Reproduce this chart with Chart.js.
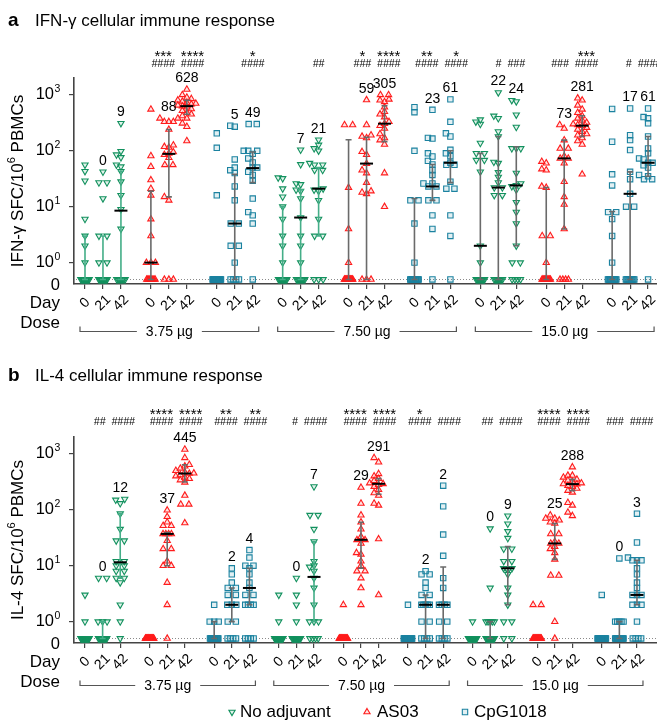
<!DOCTYPE html>
<html>
<head>
<meta charset="utf-8">
<script src="https://cdn.jsdelivr.net/npm/chart.js@4.4.1/dist/chart.umd.min.js"></script>
<style>
  html, body { margin: 0; padding: 0; background: #fff; }
  #wrap { position: relative; width: 657px; height: 722px; }
  .panel { position: absolute; left: 0; width: 657px; }
</style>
</head>
<body>
<div id="wrap">
  <div class="panel" style="top:0;height:345px"><canvas id="chartA"></canvas></div>
  <div class="panel" style="top:345px;height:377px"><canvas id="chartB"></canvas></div>
</div>
<script>
// ---- shared labels ----
const days = ['0', '21', '42'];
const doses = ['3.75 µg', '7.50 µg', '15.0 µg'];
const adjuvants = ['No adjuvant', 'AS03', 'CpG1018'];

// ---- IFN-γ SFC per 10^6 PBMCs, one array per day (0, 21, 42) ----
const ifnNoAdj375 = [
  [0,0,0,0,0,0,0,0,0,0,0,0,0, 1,2,3,6,29,43,56],
  [0,0,0,0,0,0,0,0,0,0,0,0, 1,1,3,3,14,27,27,42],
  [0,0,0,0,0,0,0,0, 4,9,16,28,43,52,56,76,85,98,310]
];
const ifnAs03375 = [
  [0,0,0,0,0,0,0,0,0, 1,1,1,3,6,16,21,30,52,81,550],
  [0,0,0, 13,15,56,56,75,85,90,95,115,118,126,240,330,330,330,380,380],
  [150,270,310,380,420,450,480,520,560,600,628,650,680,700,720,760,800,850,900,1000,1250]
];
const ifnCpg375 = [
  [0,0,0,0,0,0,0,0,0,0,0,0,0,0,0,0,0, 16,113,205],
  [0,0,0,0, 1,2,2,5,5,13,23,40,45,50,70,270,280],
  [0,5,7,8,14,29,37,42,50,50,62,73,88,100,100,100,300,300]
];
const ifnNoAdj750 = [
  [0,0,0,0,0,0,0,0,0,0,0, 1,2,3,6,10,15,21,32,33],
  [0,0,0,0,0,0,0,0,0, 1,2,3,6.4,14,19,20,25,26,57,104],
  [0,0,0, 3,3,6,13,19,20,21,45,45,56,56,60,100,110,127,157]
];
const ifnAs03750 = [
  [0,0,0,0,0,0,0,0,0,0,0,0,0,0,0, 1,4,22,290,290],
  [0,0,0, 17,18,19,27,40,45,59,85,96,170,180,190,290,810],
  [10,40,130,155,170,200,250,280,305,330,400,450,500,600,750,800,830,1000,1000]
];
const ifnCpg750 = [
  [0,0,0,0,0,0,0,0,0,0,0,0,0, 1,5,13,13,100,490,600],
  [0, 4,7,13,13,23,23,26,26,37,45,57,66,79,90,165,170,540],
  [0, 3,7,21,21,28,56,56,61,80,90,104,180,205,330,830]
];
const ifnNoAdj1500 = [
  [0,0,0,0,0,0,0,0,0,0, 1,2,42,68,68,90,90,137,300,330,360],
  [0,0,0,0,0,0,0,0, 16,16,22,22,27,34,41,60,63,180,220,380,420,1100],
  [0,0,0,0, 1,1,2,5,8,12,20,23,24,26,40,110,110,110,265,440,760,800]
];
const ifnAs031500 = [
  [0,0,0,0,0,0,0,0,0,0,0, 1,3,3,22,23,45,47,60,64],
  [0,0,0,0, 4,11,15,28,60,73,73,80,110,110,155,250,290],
  [38,130,150,170,190,200,220,240,260,281,290,300,320,350,380,420,480,550,650,800,870]
];
const ifnCpg1500 = [
  [0,0,0,0,0,0,0,0,0,0,0,0, 1,3,6,8,8,24,38,145,560],
  [0,0,0,0,0,0,0,0,0,0, 10,10,17,31,42,103,155,190,570],
  [0, 31,31,35,37,50,55,61,61,70,73,90,110,180,310,380,400,570]
];
// median and interquartile range per column (null = no bar)
const ifnMedians = [0,0,8.5, 1,88,628, 0,5,49, 0,6.4,21, 0,59,305, 0,23,61, 2,22,24, 0,73,281, 0,17,61];
const ifnLow  = [0,0,0, 0,15,450, null,0,27, 0,0,3, 0,0,146, 0,13,27, 0,0,2, 0,4,180, 0,0,35];
const ifnHigh = [3,3,43, 19,240,800, null,38,95, 10,20,50, 157,175,640, 14,57,100, 90,180,118, 22,155,424, 8.2,42,180];
const ifnMedianLabels = ['','0','9', '','88','628', '','5','49', '','7','21', '','59','305', '','23','61', '','22','24', '','73','281', '','17','61'];
const ifnStars  = ['','','', '','***','****', '','','*', '','','', '','*','****', '','**','*', '','','', '','','***', '','',''];
const ifnHashes = ['','','', '','####','####', '','','####', '','','##', '','###','####', '','####','####', '','#','###', '','###','####', '','#','####'];

// ---- IL-4 SFC per 10^6 PBMCs ----
const il4NoAdj375 = [
  [0,0,0,0,0,0,0,0,0,0,0,0,0,0,0,0,0,0, 1,3],
  [0,0,0,0,0,0,0,0,0,0,0,0,0,0, 1,1,1,6,6],
  [0, 1,2,5,6,6,8,8,10,10,12,12,28,28,45,85,130,150,155]
];
const il4As03375 = [
  [0,0,0,0,0,0,0,0,0,0,0,0,0,0,0,0,0,0,0,0],
  [0, 2,5,10,10,12,20,20,28,37,37,37,37,52,52,60,75,98],
  [58,125,125,180,310,340,360,380,400,420,445,450,470,500,550,600,640,850,1200]
];
const il4Cpg375 = [
  [0,0,0,0,0,0,0,0,0,0,0,0,0,0,0, 1,1,1,2],
  [0,0,0,0, 1,1,2,2,2,3,3,4,4,5,7,9],
  [0,0,0,0, 2,2,2,2,3,3,4,5,7,9,10,10,14,19]
];
const il4NoAdj750 = [
  [0,0,0,0,0,0,0,0,0,0,0,0,0,0,0,0,0,0, 1,3],
  [0,0,0,0,0,0,0,0,0,0,0,0,0,0,0,0, 1,2,3,6],
  [0,0,0,0, 1,1,1,2,4,6,8,9.5,10,12,27,45,80,80,260]
];
const il4As03750 = [
  [0,0,0,0,0,0,0,0,0,0,0,0,0,0,0,0,0,0,0, 2],
  [2,4,6,8,8,10,12,16,17,25,29,29,33,45,60,80,130,250],
  [3,30,120,130,180,200,230,260,280,291,300,330,360,400,440,710,850]
];
const il4Cpg750 = [
  [0,0,0,0,0,0,0,0,0,0,0,0,0,0,0,0,0,0,0, 2],
  [0,0,0,0, 1,1,2,2,2,2,2,3,3,4,5,7,7,8],
  [0,0,0,0, 1,1,2,2,2,2,4,6,15,36,115,270]
];
const il4NoAdj1500 = [
  [0,0,0,0,0,0,0,0,0,0,0,0,0,0,0,0,0,0,0, 1],
  [0,0,0,0,0,0,0,0,0,0,0,0,0,0, 1,1,1,1,1,4,46],
  [0,0, 1,1,2,3,4,7,9,9,9,9,12,12,20,20,31,41,56,78]
];
const il4As031500 = [
  [0,0,0,0,0,0,0,0,0,0,0,0,0,0,0,0,0,0, 2,2],
  [0, 1,6.7,6.7,13,17,20,22,25,25,27,37,37,57,60,65,70,70,80],
  [78,90,120,134,205,220,240,260,270,288,290,300,320,335,350,380,410,410,580]
];
const il4Cpg1500 = [
  [0,0,0,0,0,0,0,0,0,0,0,0,0,0,0,0,0,0,0, 3],
  [0,0,0,0,0,0,0,0,0,0,0,0,0,0, 1,1,1,1,1,13.5],
  [0,0,0,0, 1,2,2,2,3,3,3,4,5,7,9,12.5,12.5,12.5,14,26,85]
];
const il4Medians = [0,0,11.5, 0,37,445, 0,2,4, 0,0,6.3, 0,29,291, 0,2,2, 0,0,9, 0,25,288, 0,0,3];
const il4Low  = [null,0,6, null,10,313, 0,1,2, null,null,1, null,9,190, null,0,0, null,0,2, null,13,220, null,0,2];
const il4High = [null,1,85, null,39,640, 1,4,9, null,null,27, null,60,360, null,3,9.5, null,1,22, null,57,350, null,1,12.5];
const il4MedianLabels = ['','0','12', '','37','445', '','2','4', '','0','7', '','29','291', '','2','2', '','0','9', '','25','288', '','0','3'];
const il4Stars  = ['','','', '','****','****', '','**','**', '','','', '','****','****', '','*','', '','','', '','****','****', '','',''];
const il4Hashes = ['','##','####', '','####','####', '','####','####', '','#','####', '','####','####', '','####','####', '','##','####', '','####','####', '','###','####'];

// ---- drawing settings ----
const FONT = '"Liberation Sans", Arial, Helvetica, sans-serif';
const GREEN = '#12915e', RED = '#ff1c1c', TEAL = '#1b82a0';
const GREEN_BAR = '#44ae88', GRAY_BAR = '#6a6a6a';
const ZERO_AT = 0.5;      // zero values sit on the dotted baseline
const PX_DECADE = 56;
const STEP = 4.5;
const BLOB = 4.2;         // half-width of stacked identical values
Chart.defaults.font.family = FONT;

function rgba(hex, a) {
  const n = parseInt(hex.slice(1), 16);
  return `rgba(${n >> 16},${(n >> 8) & 255},${n & 255},${a})`;
}
function colPos(c) { return 11 * Math.floor(c / 3) + 3 * (c % 3); }

// simple deterministic beeswarm, offsets in pixels
function swarm(vals) {
  const off = new Array(vals.length).fill(0);
  const placed = [];
  const order = vals.map((v, i) => i).sort((a, b) => vals[a] - vals[b]);
  const free = (dx, y) => !placed.some(p => (p.x - dx) ** 2 + (p.y - y) ** 2 < STEP * STEP * 0.95);
  let k = 0;
  while (k < order.length) {
    let j = k;
    while (j < order.length && vals[order[j]] === vals[order[k]]) j++;
    const run = order.slice(k, j);
    const v = vals[run[0]];
    const y = Math.log10(v > 0 ? v : ZERO_AT) * PX_DECADE;
    let sym = null;
    if (run.length >= 4) {
      sym = run.map((_, n) => -BLOB + 2 * BLOB * n / (run.length - 1));
    } else if (run.length === 2 && free(-STEP, y) && free(STEP, y)) {
      sym = [-STEP * 0.9, STEP * 0.9];
    } else if (run.length === 3 && free(-STEP, y) && free(0, y) && free(STEP, y)) {
      sym = [-STEP, 0, STEP];
    }
    if (sym) {
      run.forEach((idx, n) => { off[idx] = sym[n]; placed.push({ x: sym[n], y }); });
    } else {
      run.forEach(idx => {
        for (let t = 0; t < 15; t++) {
          const dx = (t % 2 ? -1 : 1) * Math.ceil(t / 2) * STEP;
          if (free(dx, y)) { off[idx] = dx; placed.push({ x: dx, y }); break; }
        }
      });
    }
    k = j;
  }
  return off;
}

function buildPoints(groups, ppu) {
  const sets = [[], [], []];
  groups.forEach((byDay, g) => {
    byDay.forEach((vals, d) => {
      const u = 11 * g + 3 * d;
      const offs = swarm(vals);
      vals.forEach((v, i) => sets[g % 3].push({ x: u + offs[i] / ppu, y: v > 0 ? v : ZERO_AT }));
    });
  });
  return sets;
}

function drawRich(ctx, parts, cx, cy, size, supSize, raise) {
  let total = 0;
  parts.forEach(p => {
    ctx.font = `${p.sup ? supSize : size}px ${FONT}`;
    p.w = ctx.measureText(p.t).width;
    total += p.w;
  });
  let xx = cx - total / 2;
  ctx.textAlign = 'left';
  ctx.textBaseline = 'middle';
  parts.forEach(p => {
    ctx.font = `${p.sup ? supSize : size}px ${FONT}`;
    ctx.fillText(p.t, xx, p.sup ? cy - raise : cy);
    xx += p.w;
  });
}

function drawMarker(ctx, style, color, x, y, r) {
  ctx.save();
  ctx.strokeStyle = color;
  ctx.fillStyle = rgba(color, 0.12);
  ctx.lineWidth = 1.1;
  ctx.beginPath();
  if (style === 'rect') {
    const s = Math.SQRT1_2 * r;
    ctx.rect(x - s, y - s, 2 * s, 2 * s);
  } else {
    let rad = style === 'down' ? Math.PI : 0;
    for (let i = 0; i < 3; i++) {
      const px = x + Math.sin(rad) * r, py = y - Math.cos(rad) * r;
      if (i === 0) ctx.moveTo(px, py); else ctx.lineTo(px, py);
      rad += 2 * Math.PI / 3;
    }
    ctx.closePath();
  }
  ctx.fill();
  ctx.stroke();
  ctx.restore();
}

function makeDecor(cfg) {
  return {
    id: 'decor' + cfg.key,
    beforeDatasetsDraw(chart) {
      const { ctx, chartArea: area, scales: { y } } = chart;
      const yz = Math.round(y.getPixelForValue(ZERO_AT)) + 0.5;
      ctx.save();
      ctx.strokeStyle = '#8a8a8a';
      ctx.lineWidth = 1;
      ctx.setLineDash([1, 2]);
      ctx.beginPath();
      ctx.moveTo(area.left + 2, yz);
      ctx.lineTo(area.right, yz);
      ctx.stroke();
      ctx.restore();
    },
    afterDatasetsDraw(chart) {
      const { ctx, scales: { x, y } } = chart;
      const py = v => y.getPixelForValue(v > 0 ? v : ZERO_AT);
      ctx.save();
      for (let c = 0; c < 27; c++) {
        const g = Math.floor(c / 3);
        const px = x.getPixelForValue(colPos(c));
        if (cfg.low[c] !== null) {
          const y1 = py(cfg.low[c]), y2 = py(cfg.high[c]);
          ctx.strokeStyle = (g % 3 === 0 && g < 6) ? GREEN_BAR : GRAY_BAR;
          ctx.lineWidth = 1.6;
          ctx.beginPath();
          ctx.moveTo(px, y1); ctx.lineTo(px, y2);
          ctx.moveTo(px - 3, y1); ctx.lineTo(px + 3, y1);
          ctx.moveTo(px - 3, y2); ctx.lineTo(px + 3, y2);
          ctx.stroke();
        }
        if (cfg.medians[c] > 0) {
          const ym = py(cfg.medians[c]);
          ctx.strokeStyle = '#000';
          ctx.lineWidth = 2;
          ctx.beginPath();
          ctx.moveTo(px - 6.5, ym); ctx.lineTo(px + 6.5, ym);
          ctx.stroke();
        }
      }
      ctx.restore();
    },
    afterDraw(chart) {
      const { ctx, chartArea: area, scales: { x, y } } = chart;
      const py = v => y.getPixelForValue(v > 0 ? v : ZERO_AT);
      ctx.save();
      ctx.fillStyle = '#000';

      // panel letter and title
      ctx.textAlign = 'left';
      ctx.textBaseline = 'alphabetic';
      ctx.font = `bold 19px ${FONT}`;
      ctx.fillText(cfg.letter, 8, cfg.titleY);
      ctx.font = `17px ${FONT}`;
      ctx.fillText(cfg.title, 35, cfg.titleY);

      // y tick labels 10^k and the zero label
      ctx.textBaseline = 'middle';
      [1, 10, 100, 1000].forEach((v, k) => {
        const ty = y.getPixelForValue(v);
        ctx.font = `16.5px ${FONT}`;
        ctx.textAlign = 'right';
        ctx.fillText('10', 54, ty);
        ctx.font = `10.5px ${FONT}`;
        ctx.textAlign = 'left';
        ctx.fillText(String(k), 54.5, ty - 6);
      });
      ctx.font = `16.5px ${FONT}`;
      ctx.textAlign = 'right';
      ctx.fillText('0', 60, area.bottom + 1);

      // y axis title
      ctx.save();
      ctx.translate(18, (area.top + area.bottom) / 2);
      ctx.rotate(-Math.PI / 2);
      drawRich(ctx, cfg.yTitle, 0, 0, 17, 11, 6);
      ctx.restore();

      // x tick labels (days), rotated
      ctx.font = `14px ${FONT}`;
      ctx.textAlign = 'center';
      ctx.textBaseline = 'middle';
      for (let c = 0; c < 27; c++) {
        ctx.save();
        ctx.translate(x.getPixelForValue(colPos(c)), area.bottom + 19);
        ctx.rotate(-Math.PI / 4);
        ctx.fillText(days[c % 3], 0, 0);
        ctx.restore();
      }
      ctx.font = `17px ${FONT}`;
      ctx.textAlign = 'right';
      ctx.fillText('Day', 60, area.bottom + 19);
      ctx.fillText('Dose', 60, area.bottom + 39);

      // dose brackets
      ctx.strokeStyle = '#555';
      ctx.lineWidth = 1.2;
      const by = Math.round(area.bottom + cfg.bracketGap) + 0.5;
      doses.forEach((label, k) => {
        const x1 = x.getPixelForValue(colPos(9 * k)) - 5;
        const x2 = x.getPixelForValue(colPos(9 * k + 8)) + 6;
        ctx.font = `14px ${FONT}`;
        const tw = ctx.measureText(label).width, mid = (x1 + x2) / 2;
        ctx.beginPath();
        ctx.moveTo(x1, by - 5); ctx.lineTo(x1, by); ctx.lineTo(mid - tw / 2 - 9, by);
        ctx.moveTo(mid + tw / 2 + 9, by); ctx.lineTo(x2, by); ctx.lineTo(x2, by - 5);
        ctx.stroke();
        ctx.textAlign = 'center';
        ctx.fillText(label, mid, by + 1);
      });

      // median value labels above each column
      ctx.font = `14px ${FONT}`;
      ctx.textAlign = 'center';
      ctx.textBaseline = 'middle';
      for (let c = 0; c < 27; c++) {
        if (!cfg.labels[c]) continue;
        const vals = cfg.groups[Math.floor(c / 3)][c % 3];
        const top = Math.max(...vals);
        ctx.fillText(cfg.labels[c], x.getPixelForValue(colPos(c)), py(top) - 11);
      }

      // significance marks
      ctx.textBaseline = 'alphabetic';
      for (let g = 0; g < 9; g++) {
        const c1 = g * 3 + 1, c2 = g * 3 + 2;
        let p1 = x.getPixelForValue(colPos(c1)), p2 = x.getPixelForValue(colPos(c2));
        ctx.font = `italic 10.5px ${FONT}`;
        const w1 = ctx.measureText(cfg.hashes[c1]).width, w2 = ctx.measureText(cfg.hashes[c2]).width;
        if (cfg.hashes[c1] && cfg.hashes[c2]) {
          const need = (w1 + w2) / 2 + 6 - (p2 - p1);
          if (need > 0) { p1 -= need / 2; p2 += need / 2; }
        }
        [[c1, p1], [c2, p2]].forEach(([c, px]) => {
          ctx.font = `italic 10.5px ${FONT}`;
          ctx.fillText(cfg.hashes[c], px, cfg.hashY);
          ctx.font = `15px ${FONT}`;
          ctx.fillText(cfg.stars[c], px, cfg.starY);
        });
      }

      // legend
      if (cfg.legend) {
        const items = [
          { label: adjuvants[0], style: 'down', color: GREEN, mx: 232, tx: 240 },
          { label: adjuvants[1], style: 'up', color: RED, mx: 367, tx: 377 },
          { label: adjuvants[2], style: 'rect', color: TEAL, mx: 465, tx: 474 }
        ];
        ctx.font = `17px ${FONT}`;
        ctx.textAlign = 'left';
        ctx.textBaseline = 'middle';
        items.forEach(it => {
          drawMarker(ctx, it.style, it.color, it.mx, cfg.legendY, it.style === 'rect' ? 3.8 : 3.6);
          ctx.fillStyle = '#000';
          ctx.fillText(it.label, it.tx, cfg.legendY);
        });
      }
      ctx.restore();
    }
  };
}

function makePanel(id, cfg) {
  const ppu = 583 / (cfg.xmax - cfg.xmin);
  const sets = buildPoints(cfg.groups, ppu);
  const styles = [
    { pointStyle: 'triangle', pointRotation: 180, color: GREEN, r: 3.6 },
    { pointStyle: 'triangle', pointRotation: 0, color: RED, r: 3.6 },
    { pointStyle: 'rect', pointRotation: 0, color: TEAL, r: 3.8 }
  ];
  new Chart(document.getElementById(id), {
    type: 'scatter',
    data: {
      datasets: sets.map((pts, a) => ({
        label: adjuvants[a],
        data: pts,
        pointStyle: styles[a].pointStyle,
        pointRotation: styles[a].pointRotation,
        pointRadius: styles[a].r,
        pointHoverRadius: styles[a].r,
        pointBorderWidth: 1.1,
        borderColor: styles[a].color,
        pointBorderColor: styles[a].color,
        backgroundColor: rgba(styles[a].color, 0.12),
        pointBackgroundColor: rgba(styles[a].color, 0.12),
        clip: false
      }))
    },
    options: {
      responsive: true,
      maintainAspectRatio: false,
      animation: false,
      events: [],
      layout: { padding: { top: cfg.top, left: 0, right: 0, bottom: 0 }, autoPadding: false },
      plugins: { legend: { display: false }, tooltip: { enabled: false } },
      scales: {
        x: {
          type: 'linear',
          min: cfg.xmin,
          max: cfg.xmax,
          afterBuildTicks: s => { s.ticks = Array.from({ length: 27 }, (_, c) => ({ value: colPos(c) })); },
          ticks: { display: false },
          grid: { display: true, drawOnChartArea: false, drawTicks: true, tickLength: 5, color: '#444', lineWidth: 1.2 },
          border: { display: true, color: '#444', width: 1.6 },
          afterFit: s => { s.height = cfg.xAxisHeight; }
        },
        y: {
          type: 'logarithmic',
          min: 0.415,
          max: 2000,
          afterBuildTicks: s => { s.ticks = [1, 10, 100, 1000].map(v => ({ value: v })); },
          ticks: { display: false },
          grid: { display: true, drawOnChartArea: false, drawTicks: true, tickLength: 5, color: '#444', lineWidth: 1.2 },
          border: { display: true, color: '#444', width: 1.6 },
          afterFit: s => { s.width = 74; }
        }
      }
    },
    plugins: [makeDecor(cfg)]
  });
}

makePanel('chartA', {
  key: 'A', letter: 'a', title: 'IFN-γ cellular immune response', titleY: 26,
  yTitle: [{ t: 'IFN-γ SFC/10' }, { t: '6', sup: true }, { t: ' PBMCs' }],
  groups: [ifnNoAdj375, ifnAs03375, ifnCpg375, ifnNoAdj750, ifnAs03750, ifnCpg750, ifnNoAdj1500, ifnAs031500, ifnCpg1500],
  medians: ifnMedians, low: ifnLow, high: ifnHigh, labels: ifnMedianLabels,
  stars: ifnStars, hashes: ifnHashes,
  top: 78, xAxisHeight: 61, xmin: -1.836, xmax: 95.49,
  starY: 61, hashY: 67, bracketGap: 47, legend: false
});

makePanel('chartB', {
  key: 'B', letter: 'b', title: 'IL-4 cellular immune response', titleY: 36,
  yTitle: [{ t: 'IL-4 SFC/10' }, { t: '6', sup: true }, { t: ' PBMCs' }],
  groups: [il4NoAdj375, il4As03375, il4Cpg375, il4NoAdj750, il4As03750, il4Cpg750, il4NoAdj1500, il4As031500, il4Cpg1500],
  medians: il4Medians, low: il4Low, high: il4High, labels: il4MedianLabels,
  stars: il4Stars, hashes: il4Hashes,
  top: 92, xAxisHeight: 79, xmin: -1.873, xmax: 97.41,
  starY: 74, hashY: 80, bracketGap: 42, legend: true, legendY: 367
});
</script>
</body>
</html>
